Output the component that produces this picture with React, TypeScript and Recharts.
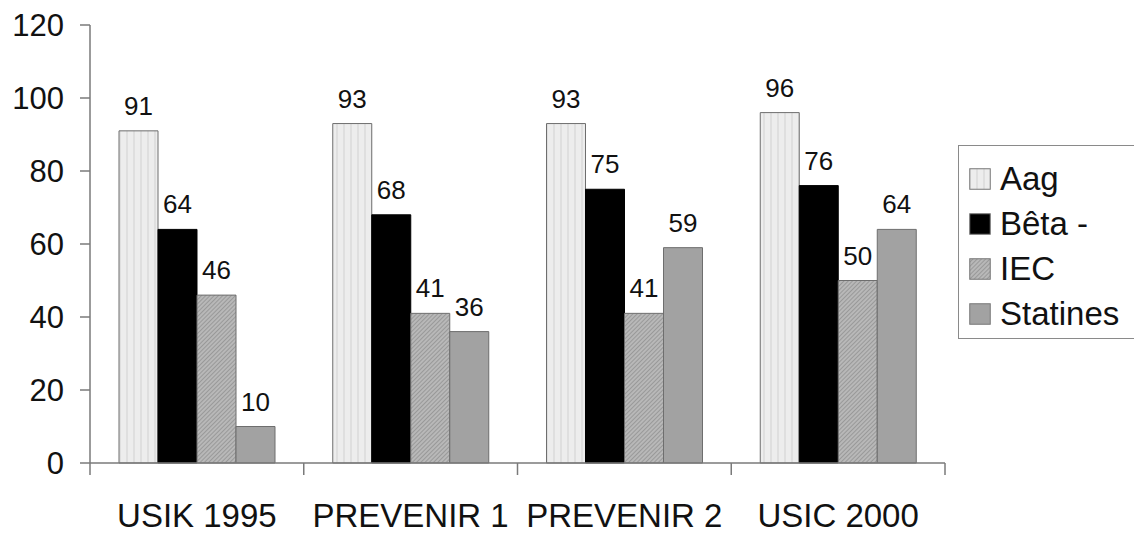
import React from "react";
import { BarChart, Bar, XAxis, YAxis, LabelList } from "recharts";

const categories = ["USIK 1995", "PREVENIR 1", "PREVENIR 2", "USIC 2000"];
const aag = [91, 93, 93, 96];
const beta = [64, 68, 75, 76];
const iec = [46, 41, 41, 50];
const statines = [10, 36, 59, 64];
const yTicks = [0, 20, 40, 60, 80, 100, 120];

const series = [
  { key: "aag", name: "Aag", fill: "url(#pAag)" },
  { key: "beta", name: "Bêta -", fill: "#000000" },
  { key: "iec", name: "IEC", fill: "url(#pIec)" },
  { key: "statines", name: "Statines", fill: "#a2a2a2" },
];

const data = categories.map((c, i) => ({
  name: c,
  aag: aag[i],
  beta: beta[i],
  iec: iec[i],
  statines: statines[i],
}));

const FONT = '"Liberation Sans", Arial, Helvetica, sans-serif';
const AXIS = "#7a7a7a";
const TEXT = "#111";

function CategoryTick(props: any) {
  const { x, y, payload, index, visibleTicksCount } = props;
  const half = payload.offset ?? 0;
  return (
    <g>
      <line x1={x - half} x2={x - half} y1={y} y2={y + 12} stroke={AXIS} strokeWidth={1.5} />
      {index === visibleTicksCount - 1 && (
        <line x1={x + half} x2={x + half} y1={y} y2={y + 12} stroke={AXIS} strokeWidth={1.5} />
      )}
      <text x={x} y={y + 64} textAnchor="middle" fontSize={33} fill={TEXT} fontFamily={FONT}>
        {payload.value}
      </text>
    </g>
  );
}

function Patterns() {
  return (
    <defs>
      <pattern id="pAag" width={7} height={7} patternUnits="userSpaceOnUse">
        <rect width={7} height={7} fill="#ededed" />
        <line x1={1} x2={1} y1={0} y2={7} stroke="#d6d6d6" strokeWidth={1.2} />
      </pattern>
      <pattern id="pIec" width={3} height={3} patternUnits="userSpaceOnUse" patternTransform="rotate(45)">
        <rect width={3} height={3} fill="#b8b8b8" />
        <line x1={0} x2={0} y1={0} y2={3} stroke="#858585" strokeWidth={1.2} />
      </pattern>
    </defs>
  );
}

function LegendBox() {
  return (
    <div
      style={{
        position: "absolute",
        left: 958,
        top: 145,
        border: "1.5px solid #8a8a8a",
        width: 190,
        height: 194,
        boxSizing: "border-box",
        padding: "10px 0 0 10px",
        fontFamily: FONT,
        background: "#fff",
      }}
    >
      {series.map((s) => (
        <div key={s.key} style={{ display: "flex", alignItems: "center", height: 45 }}>
          <svg width={22} height={22} style={{ marginRight: 9 }}>
            <rect x={0.75} y={0.75} width={20.5} height={20.5} fill={s.fill} stroke="#777" strokeWidth={1} />
          </svg>
          <span style={{ fontSize: 33, color: TEXT, lineHeight: "33px" }}>{s.name}</span>
        </div>
      ))}
    </div>
  );
}

export default function App() {
  return (
    <div style={{ position: "absolute", left: 0, top: 0, width: 1134, height: 533, overflow: "hidden", background: "#fff" }}>
      <BarChart
        width={1134}
        height={533}
        data={data}
        margin={{ top: 25, right: 189, bottom: 0, left: 0 }}
        barGap={0}
        barSize={39}
      >
        <Patterns />
        <XAxis
          dataKey="name"
          height={70}
          tickLine={false}
          tickSize={0}
          tickMargin={0}
          axisLine={{ stroke: AXIS, strokeWidth: 1.5 }}
          tick={<CategoryTick />}
          interval={0}
        />
        <YAxis
          width={90}
          domain={[0, 120]}
          ticks={yTicks}
          tickSize={10}
          tickMargin={16}
          axisLine={{ stroke: AXIS, strokeWidth: 1.5 }}
          tickLine={{ stroke: AXIS, strokeWidth: 1.5 }}
          tick={{ fontSize: 31, fill: TEXT, fontFamily: FONT }}
        />
        {series.map((s) => (
          <Bar
            key={s.key}
            dataKey={s.key}
            name={s.name}
            fill={s.fill}
            stroke={s.key === "beta" ? "#000" : "#6e6e6e"}
            strokeWidth={1}
            isAnimationActive={false}
          >
            <LabelList
              dataKey={s.key}
              position="top"
              offset={16}
              fontSize={26}
              fill={TEXT}
              fontFamily={FONT}
            />
          </Bar>
        ))}
      </BarChart>
      <LegendBox />
    </div>
  );
}
